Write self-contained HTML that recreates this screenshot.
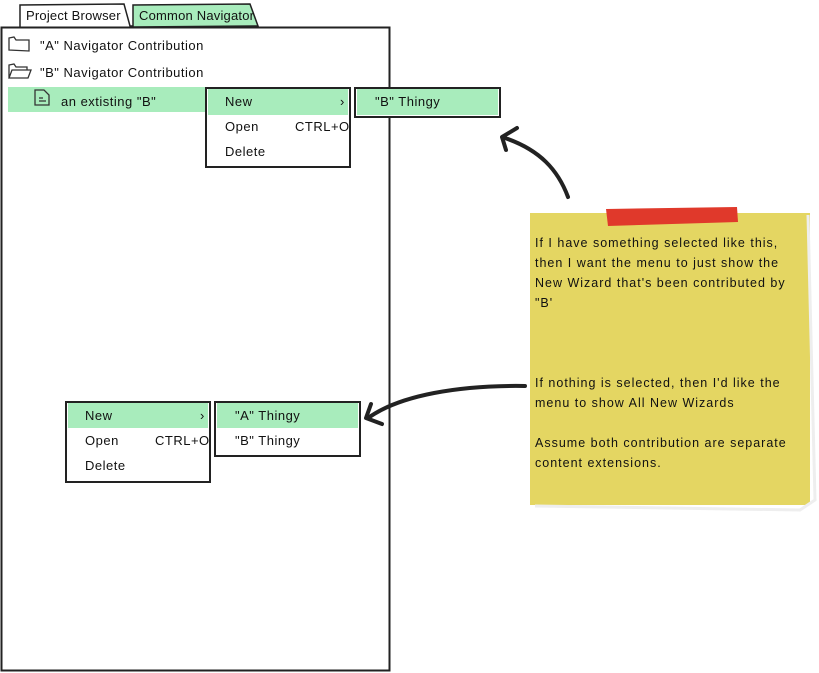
<!DOCTYPE html>
<html><head><style>
body{margin:0;width:819px;height:673px;background:#fff;position:relative;overflow:hidden;font-family:"Liberation Sans",sans-serif;font-size:13px;letter-spacing:0.5px;color:#111}
.a{position:absolute;white-space:nowrap}
.box{position:absolute;border:2px solid #222;background:#fff;box-sizing:border-box}
.g{background:#a8ecbc}
.s{font-size:12.5px;letter-spacing:1px;line-height:20px}
</style></head><body>
<svg class="a" style="left:0;top:0" width="819" height="673">
<path d="M20 28 L20 5 L124 4 L130 26 L133 26" fill="#fff" stroke="#222" stroke-width="1.5"/>
<path d="M133 27 L133 5 L250 4 L258 26 Z" fill="#a8ecbc" stroke="#222" stroke-width="1.5"/>
<rect x="1.5" y="27.5" width="388" height="643" fill="none" stroke="#222" stroke-width="2"/>
<path d="M9 50 L9 38 L14 37 L16 40 L29 40 L29 51 Z" fill="none" stroke="#333" stroke-width="1.3"/>
<path d="M9 78 L9 65 L14 64 L16 67 L27 67 L27 70 M9 78 L12 70 L31 70 L28 78 Z" fill="none" stroke="#333" stroke-width="1.3"/>
<rect x="530" y="213" width="280" height="292" fill="#e4d662"/>
<path d="M808 215 L815 500 L800 510 L535 506" fill="none" stroke="#eee" stroke-width="3"/>
<path d="M606 209 L737 207 L738 222 L608 226 Z" fill="#e0392b"/>
<path d="M568 197 C558 170 540 150 505 138" fill="none" stroke="#222" stroke-width="4" stroke-linecap="round"/>
<path d="M517 128 L502 137 L506 150" fill="none" stroke="#222" stroke-width="4" stroke-linecap="round" stroke-linejoin="round"/>
<path d="M525 386 C460 385 400 395 368 418" fill="none" stroke="#222" stroke-width="4" stroke-linecap="round"/>
<path d="M371 404 L366 418 L382 424" fill="none" stroke="#222" stroke-width="4" stroke-linecap="round" stroke-linejoin="round"/>
</svg>
<div class="a" style="left:26px;top:8px;letter-spacing:0.2px">Project Browser</div>
<div class="a" style="left:139px;top:8px;letter-spacing:0.2px">Common Navigator</div>
<div class="a" style="left:40px;top:38px">"A" Navigator Contribution</div>
<div class="a" style="left:40px;top:65px">"B" Navigator Contribution</div>
<div class="a g" style="left:8px;top:87px;width:200px;height:25px"></div>
<svg class="a" style="left:33px;top:88px" width="20" height="20"><path d="M2 2 L11 2 L16 7 L16 17 L2 17 Z M6 10 L10 10 M6 13 L13 13" fill="none" stroke="#333" stroke-width="1.3"/></svg>
<div class="a" style="left:61px;top:94px">an extisting "B"</div>

<div class="box" style="left:205px;top:87px;width:146px;height:81px"></div>
<div class="a g" style="left:208px;top:89px;width:140px;height:26px"></div>
<div class="a" style="left:225px;top:94px">New</div>
<div class="a" style="left:340px;top:94px">›</div>
<div class="a" style="left:225px;top:119px">Open</div>
<div class="a" style="left:295px;top:119px">CTRL+O</div>
<div class="a" style="left:225px;top:144px">Delete</div>
<div class="box" style="left:354px;top:87px;width:147px;height:31px"></div>
<div class="a g" style="left:357px;top:89px;width:141px;height:26px"></div>
<div class="a" style="left:375px;top:94px">"B" Thingy</div>

<div class="box" style="left:65px;top:401px;width:146px;height:82px"></div>
<div class="a g" style="left:68px;top:403px;width:140px;height:25px"></div>
<div class="a" style="left:85px;top:408px">New</div>
<div class="a" style="left:200px;top:408px">›</div>
<div class="a" style="left:85px;top:433px">Open</div>
<div class="a" style="left:155px;top:433px">CTRL+O</div>
<div class="a" style="left:85px;top:458px">Delete</div>
<div class="box" style="left:214px;top:401px;width:147px;height:56px"></div>
<div class="a g" style="left:217px;top:403px;width:141px;height:25px"></div>
<div class="a" style="left:235px;top:408px">"A" Thingy</div>
<div class="a" style="left:235px;top:433px">"B" Thingy</div>

<div class="a s" style="left:535px;top:233px">If I have something selected like this,<br>then I want the menu to just show the<br>New Wizard that's been contributed by<br>"B'</div>
<div class="a s" style="left:535px;top:373px">If nothing is selected, then I'd like the<br>menu to show All New Wizards<br><br>Assume both contribution are separate<br>content extensions.</div>
</body></html>
